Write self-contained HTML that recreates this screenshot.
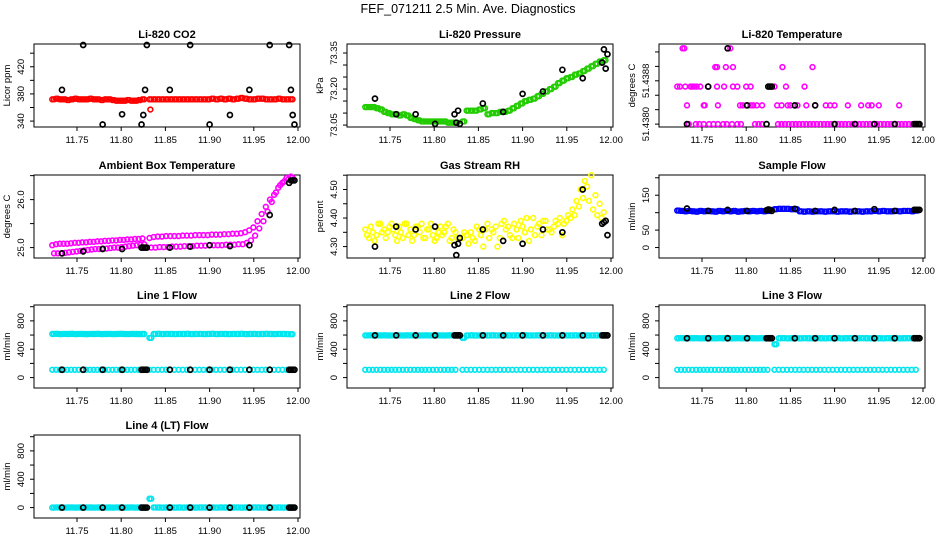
<!DOCTYPE html>
<html><head><meta charset="utf-8"><style>
html,body{margin:0;padding:0;background:#fff;}
svg{display:block;font-family:"Liberation Sans",sans-serif;}
</style></head><body>
<svg id="chart" width="936" height="540" viewBox="0 0 936 540" xmlns="http://www.w3.org/2000/svg">
<rect width="936" height="540" fill="#fff"/>
<text x="468" y="13" text-anchor="middle" font-size="12.5">FEF_071211  2.5 Min. Ave. Diagnostics</text>
</svg>
<script>
// time grids (x categories)
const seg1N = 25, seg2N = 35;
const gridT = [];
for (let i = 0; i < seg1N; i++) gridT.push(11.722 + i * 0.00425);
for (let i = 0; i < seg2N; i++) gridT.push(11.832 + i * 0.0047);
const gridT2 = gridT.map(t => t + 0.002);
const blackT = [11.733,11.757,11.779,11.801,11.823,11.825,11.827,11.829,11.855,11.878,11.900,11.923,11.945,11.968,11.990,11.992,11.994,11.996];

const co2V = [372,373,372,372,371,372,373,372,372,372,373,372,372,371,372,372,371,370,370,370,371,370,370,371,372,
 372,372,372,372,372,372,372,372,372,372,372,372,372,372,372,373,372,373,372,373,372,373,374,373,372,372,373,373,372,372,372,373,372,372,372];
const co2OutT = [11.833];
const co2OutV = [357];
const co2Black = [386,452,335,350,335,349,386,452,386,452,335,349,386,452,452,386,349,335];

const presV = [73.125,73.125,73.125,73.12,73.115,73.105,73.10,73.095,73.095,73.09,73.095,73.09,73.08,73.075,73.07,73.065,73.065,73.065,73.065,73.065,73.065,73.065,73.06,73.06,73.06,
 73.065,73.11,73.11,73.11,73.115,73.12,73.095,73.10,73.10,73.105,73.105,73.11,73.12,73.13,73.14,73.15,73.155,73.16,73.17,73.18,73.19,73.20,73.21,73.225,73.235,73.245,73.25,73.26,73.265,73.275,73.285,73.295,73.305,73.315,73.32];
const presBlack = [73.16,73.095,73.095,73.055,73.095,73.06,73.11,73.055,73.14,73.105,73.18,73.19,73.28,73.245,73.31,73.365,73.285,73.345];

const tempT = [11.728,11.730,11.779,11.782,
 11.765,11.767,11.777,11.785,11.841,11.875,
 11.722,11.725,11.731,11.737,11.739,11.741,11.744,11.748,11.757,11.767,11.775,11.785,11.790,11.800,11.805,11.832,11.845,11.866,
 11.733,11.752,11.753,11.768,11.793,11.796,11.800,11.805,11.808,11.812,11.818,11.835,11.840,11.847,11.850,11.858,11.868,11.878,11.890,11.895,11.900,11.915,11.930,11.938,11.942,11.950,11.973,
 11.735,11.743,11.747,11.752,11.758,11.763,11.768,11.774,11.778,11.784,11.790,11.794,11.810,11.814,11.818,11.836,11.840,11.844,11.848,11.852,11.856,11.860,11.864,11.868,11.872,11.876,11.880,11.884,11.888,11.892,11.896,11.904,11.908,11.912,11.916,11.920,11.924,11.928,11.932,11.936,11.940,11.944,11.948,11.952,11.956,11.960,11.964,11.968,11.972,11.976,11.980,11.984,11.988,11.992];
const tempV = [51.43905,51.43905,51.43905,51.43905,
 51.43879,51.43879,51.43879,51.43879,51.43879,51.43879,
 51.43852,51.43852,51.43852,51.43852,51.43852,51.43852,51.43852,51.43852,51.43852,51.43852,51.43852,51.43852,51.43852,51.43852,51.43852,51.43852,51.43852,51.43852,
 51.43826,51.43826,51.43826,51.43826,51.43826,51.43826,51.43826,51.43826,51.43826,51.43826,51.43826,51.43826,51.43826,51.43826,51.43826,51.43826,51.43826,51.43826,51.43826,51.43826,51.43826,51.43826,51.43826,51.43826,51.43826,51.43826,51.43826,
 51.438,51.438,51.438,51.438,51.438,51.438,51.438,51.438,51.438,51.438,51.438,51.438,51.438,51.438,51.438,51.438,51.438,51.438,51.438,51.438,51.438,51.438,51.438,51.438,51.438,51.438,51.438,51.438,51.438,51.438,51.438,51.438,51.438,51.438,51.438,51.438,51.438,51.438,51.438,51.438,51.438,51.438,51.438,51.438,51.438,51.438,51.438,51.438,51.438,51.438,51.438,51.438,51.438,51.438];
const tempBlack = [51.438,51.43852,51.43905,51.43826,51.438,51.43852,51.43852,51.43852,51.43826,51.43826,51.438,51.438,51.438,51.438,51.438,51.438,51.438,51.438];

const ambHiV = [25.05,25.07,25.08,25.08,25.08,25.09,25.10,25.10,25.11,25.11,25.12,25.12,25.13,25.13,25.14,25.14,25.15,25.15,25.16,25.16,25.17,25.17,25.18,25.18,25.19,
 25.20,25.22,25.23,25.23,25.24,25.24,25.24,25.24,25.25,25.25,25.25,25.26,25.26,25.26,25.26,25.27,25.27,25.27,25.28,25.28,25.29,25.29,25.30,25.32,25.36,25.42,25.55,25.70,25.85,26.0,26.1,26.25,26.35,26.45,26.48];
const ambLoV = [24.88,24.88,24.88,24.89,24.90,24.91,24.92,24.93,24.94,24.95,24.96,24.97,24.97,24.98,24.98,24.99,25.00,25.00,25.01,25.02,25.03,25.04,25.05,25.06,25.07,
 25.00,25.00,25.01,25.01,25.01,25.02,25.02,25.02,25.03,25.03,25.03,25.04,25.04,25.04,25.05,25.05,25.05,25.05,25.06,25.06,25.06,25.07,25.07,25.10,25.15,25.25,25.40,25.55,25.75,25.95,26.15,26.3,26.38,26.42,26.46];
const ambBlack = [24.88,24.92,24.97,24.97,25.0,25.0,25.0,25.0,25.0,25.02,25.05,25.03,25.05,25.68,26.35,26.4,26.4,26.4];

const rhV = [4.36,4.33,4.35,4.34,4.38,4.36,4.35,4.38,4.34,4.37,4.33,4.38,4.36,4.34,4.37,4.38,4.33,4.36,4.34,4.33,4.37,4.35,4.38,4.33,4.35,
 4.33,4.34,4.35,4.32,4.36,4.30,4.38,4.36,4.37,4.33,4.39,4.37,4.33,4.36,4.39,4.35,4.32,4.40,4.37,4.34,4.39,4.36,4.37,4.38,4.34,4.39,4.40,4.41,4.44,4.47,4.51,4.55,4.48,4.45,4.42];
const rhV2 = [4.34,4.37,4.32,4.38,4.35,4.33,4.37,4.36,4.32,4.35,4.38,4.34,4.32,4.37,4.35,4.33,4.36,4.38,4.32,4.35,4.34,4.37,4.32,4.36,4.33,
 4.35,4.31,4.33,4.37,4.34,4.36,4.33,4.35,4.30,4.38,4.36,4.34,4.38,4.33,4.37,4.40,4.36,4.34,4.38,4.39,4.36,4.35,4.39,4.40,4.38,4.41,4.43,4.46,4.50,4.53,4.46,4.43,4.41,4.40,4.39];
const rhBlack = [4.30,4.37,4.36,4.37,4.305,4.27,4.31,4.33,4.36,4.32,4.31,4.36,4.35,4.50,4.38,4.385,4.39,4.34];

const sfV = [106,105,104,105,104,103,105,104,105,104,103,105,104,105,104,105,103,104,105,104,105,104,105,104,105,
 110,111,111,111,110,110,104,103,104,103,104,104,103,104,104,103,104,104,103,104,104,103,104,104,105,104,105,104,104,105,104,105,105,104,106];
const sfBlack = [112,105,108,105,107,109,108,105,111,105,108,105,110,105,108,108,108,108];

const l1Hi = [615,618,614,616,615,617,614,616,615,613,616,615,617,614,615,616,614,615,617,615,614,616,615,614,615,
 560,615,617,614,616,615,614,616,615,617,614,615,616,614,615,617,614,616,615,614,616,615,617,614,615,616,614,615,617,615,614,616,615,614,612];
const l1Lo = [110,110,110,110,110,110,110,110,110,110,110,110,110,110,110,110,110,110,110,110,110,110,110,110,110,
 110,110,110,110,110,110,110,110,110,110,110,110,110,110,110,110,110,110,110,110,110,110,110,110,110,110,110,110,110,110,110,110,110,110,110];
const l1Black = [110,110,110,110,110,110,110,110,110,110,110,110,110,110,110,110,110,110];

const l2Hi = [595,597,594,596,595,596,594,595,596,595,594,596,595,597,594,595,596,594,595,596,595,594,596,595,595,
 560,595,596,594,595,597,594,596,595,594,596,595,594,596,595,597,594,595,596,594,595,596,595,594,596,595,594,596,595,597,594,595,596,595,595];
const l2Lo = l1Lo;
const l2Black = [595,595,595,595,595,595,595,595,595,595,595,595,595,595,595,595,595,595];

const l3Hi = [555,557,554,556,555,556,554,555,556,555,554,556,555,557,554,555,556,554,555,556,555,554,556,555,555,
 470,555,556,554,555,557,554,556,555,554,556,555,554,556,555,557,554,555,556,554,555,556,555,554,556,555,554,556,555,557,554,555,556,555,555];
const l3Lo = l1Lo;
const l3Black = [555,555,555,555,555,555,555,555,555,555,555,555,555,555,555,555,555,555];

const l4V = [0,2,1,0,1,2,0,1,0,2,1,0,1,2,0,1,0,2,1,0,1,2,0,1,0,
 125,2,1,0,1,2,0,1,0,2,1,0,1,2,0,1,0,2,1,0,1,2,0,1,0,2,1,0,1,2,0,1,0,2,1];
const l4Black = [0,0,0,0,0,0,0,0,0,0,0,0,0,0,0,0,0,0];

const xTicks = [11.75,11.80,11.85,11.90,11.95,12.00];
const xTickLabels = ["11.75","11.80","11.85","11.90","11.95","12.00"];

const NS = "http://www.w3.org/2000/svg";
const svg = document.getElementById("chart");
function mk(tag, attrs, parent) {
  const e = document.createElementNS(NS, tag);
  for (const k in attrs) e.setAttribute(k, attrs[k]);
  (parent || svg).appendChild(e);
  return e;
}
const PW = 266, PH = 83;
function panel(cfg) {
  const L = cfg.left, T = cfg.top, R = L + PW, B = T + PH;
  const g = mk("g", {});
  
  
  const xs = t => L + 43 + (t - 11.75) * 884;
  const ys = v => B - (v - cfg.ymin) / (cfg.ymax - cfg.ymin) * PH;
  const title = mk("text", {x: L + PW / 2, y: T - 6, "text-anchor": "middle", "font-size": 11, "font-weight": "bold"}, g);
  title.textContent = cfg.title;
  
  
  const box = mk("rect", {x: L, y: T, width: PW, height: PH, fill: "none", stroke: "#000", "stroke-width": 1}, g);
  
  
  xTicks.forEach((t, i) => {
    const x = xs(t);
    const tk = mk("line", {x1: x, x2: x, y1: B, y2: B + 4, stroke: "#000"}, g);
    
    
    const lb = mk("text", {x: x, y: B + 16, "text-anchor": "middle", "font-size": 9.5}, g);
    lb.textContent = xTickLabels[i];
    
    
  });
  cfg.yTicks.forEach(v => {
    const y = ys(v);
    const tk = mk("line", {x1: L - 4, x2: L, y1: y, y2: y, stroke: "#000"}, g);
    
    
  });
  cfg.yLabels.forEach((v, i) => {
    const y = ys(v);
    const lb = mk("text", {x: L - 10, y: y, "text-anchor": "middle", "font-size": 9.5, transform: `rotate(-90 ${L - 10} ${y})`}, g);
    lb.textContent = cfg.yLabelText[i];
    
    
  });
  const yl = mk("text", {x: L - 24, y: T + PH / 2, "text-anchor": "middle", "font-size": 9.5, transform: `rotate(-90 ${L - 24} ${T + PH / 2})`}, g);
  yl.textContent = cfg.ylab;
  
  
  cfg.series.forEach(s => {
    s.t.forEach((t, i) => {
      const v = s.v[i];
      if (v === undefined) return;
      const c = mk("circle", {cx: xs(t), cy: ys(v), r: s.black ? 2.5 : 2.4, fill: "none", stroke: s.color, "stroke-width": s.black ? 1.7 : 1.6}, g);
      
      
    });
  });
}
const C1 = 34, C2 = 347, C3 = 659;
const R1 = 44, R2 = 175, R3 = 305, R4 = 435;
const flowTicks = [0,200,400,600,800,1000];
panel({name:"panel-co2", title:"Li-820 CO2", left:C1, top:R1, ymin:331.3, ymax:453.5, ylab:"Licor ppm",
  yTicks:[340,360,380,400,420,440], yLabels:[340,380,420], yLabelText:["340","380","420"],
  series:[{t:gridT, v:co2V, color:"#ff0000"},{t:gridT2, v:co2V, color:"#ff0000"},{t:co2OutT, v:co2OutV, color:"#ff0000"},{t:blackT, v:co2Black, color:"#000", black:true}]});
panel({name:"panel-pressure", title:"Li-820 Pressure", left:C2, top:R1, ymin:73.042, ymax:73.3875, ylab:"kPa",
  yTicks:[73.05,73.10,73.15,73.20,73.25,73.30,73.35], yLabels:[73.05,73.20,73.35], yLabelText:["73.05","73.20","73.35"],
  series:[{t:gridT, v:presV, color:"#22cc00"},{t:gridT2, v:presV, color:"#22cc00"},{t:blackT, v:presBlack, color:"#000", black:true}]});
panel({name:"panel-temperature", title:"Li-820 Temperature", left:C3, top:R1, ymin:51.43796, ymax:51.43911, ylab:"degrees C",
  yTicks:[51.438,51.4382,51.4384,51.4386,51.4388,51.439], yLabels:[51.438,51.4386], yLabelText:["51.4380","51.4388"],
  series:[{t:tempT, v:tempV, color:"#ff00ff"},{t:blackT, v:tempBlack, color:"#000", black:true}]});
panel({name:"panel-ambient", title:"Ambient Box Temperature", left:C1, top:R2, ymin:24.783, ymax:26.513, ylab:"degrees C",
  yTicks:[25.0,25.5,26.0,26.5], yLabels:[25.0,26.0], yLabelText:["25.0","26.0"],
  series:[{t:gridT, v:ambHiV, color:"#ff00ff"},{t:gridT2, v:ambLoV, color:"#ff00ff"},{t:blackT, v:ambBlack, color:"#000", black:true}]});
panel({name:"panel-rh", title:"Gas Stream RH", left:C2, top:R2, ymin:4.26, ymax:4.5507, ylab:"percent",
  yTicks:[4.30,4.35,4.40,4.45,4.50,4.55], yLabels:[4.30,4.40,4.50], yLabelText:["4.30","4.40","4.50"],
  series:[{t:gridT, v:rhV, color:"#ffff00"},{t:gridT2, v:rhV2, color:"#ffff00"},{t:blackT, v:rhBlack, color:"#000", black:true}]});
panel({name:"panel-sample-flow", title:"Sample Flow", left:C3, top:R2, ymin:-30, ymax:208, ylab:"ml/min",
  yTicks:[0,50,100,150,200], yLabels:[0,50,150], yLabelText:["0","50","150"],
  series:[{t:gridT, v:sfV, color:"#0000ff"},{t:gridT2, v:sfV, color:"#0000ff"},{t:blackT, v:sfBlack, color:"#000", black:true}]});
panel({name:"panel-line1", title:"Line 1 Flow", left:C1, top:R3, ymin:-147, ymax:1024, ylab:"ml/min",
  yTicks:flowTicks, yLabels:[0,400,800], yLabelText:["0","400","800"],
  series:[{t:gridT, v:l1Hi, color:"#00e5ee"},{t:gridT2, v:l1Hi, color:"#00e5ee"},{t:gridT, v:l1Lo, color:"#00e5ee"},{t:blackT, v:l1Black, color:"#000", black:true}]});
panel({name:"panel-line2", title:"Line 2 Flow", left:C2, top:R3, ymin:-147, ymax:1024, ylab:"ml/min",
  yTicks:flowTicks, yLabels:[0,400,800], yLabelText:["0","400","800"],
  series:[{t:gridT, v:l2Hi, color:"#00e5ee"},{t:gridT2, v:l2Hi, color:"#00e5ee"},{t:gridT, v:l2Lo, color:"#00e5ee"},{t:blackT, v:l2Black, color:"#000", black:true}]});
panel({name:"panel-line3", title:"Line 3 Flow", left:C3, top:R3, ymin:-147, ymax:1024, ylab:"ml/min",
  yTicks:flowTicks, yLabels:[0,400,800], yLabelText:["0","400","800"],
  series:[{t:gridT, v:l3Hi, color:"#00e5ee"},{t:gridT2, v:l3Hi, color:"#00e5ee"},{t:gridT, v:l3Lo, color:"#00e5ee"},{t:blackT, v:l3Black, color:"#000", black:true}]});
panel({name:"panel-line4", title:"Line 4 (LT) Flow", left:C1, top:R4, ymin:-147, ymax:1024, ylab:"ml/min",
  yTicks:flowTicks, yLabels:[0,400,800], yLabelText:["0","400","800"],
  series:[{t:gridT, v:l4V, color:"#00e5ee"},{t:gridT2, v:l4V, color:"#00e5ee"},{t:blackT, v:l4Black, color:"#000", black:true}]});
</script>
</body></html>
